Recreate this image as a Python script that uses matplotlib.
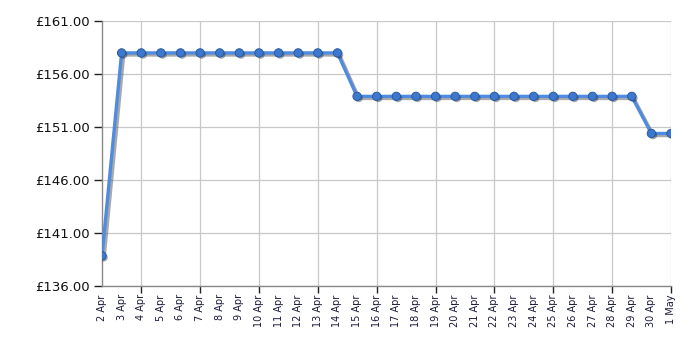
import numpy as np
from matplotlib import pyplot as plt
import matplotlib.patheffects as pe

DATES = [f"{d} Apr" for d in range(2, 31)] + ["1 May"]
PRICES = [138.85] + [157.99] * 12 + [153.89] * 15 + [150.39] * 2
Y_TICKS = [136, 141, 146, 151, 156, 161]

LINE_COLOR = "#4f8be0"
MARKER_COLOR = "#3d78cf"


def main():
    fig = plt.figure(figsize=(7, 3.5), dpi=100)
    ax = fig.add_axes([102 / 700, 64 / 350, 569 / 700, 265 / 350])

    x = np.arange(len(DATES))
    shadow = [pe.SimpleLineShadow(offset=(1.5, -1.5), shadow_color="#555555", alpha=0.5), pe.Normal()]
    ax.plot(x, PRICES, color=LINE_COLOR, lw=2.4, solid_joinstyle="round",
            path_effects=shadow, zorder=3)
    ax.plot(x, PRICES, ls="none", marker="o", ms=6, mfc=MARKER_COLOR,
            mec="#2a5a9e", mew=0.7, zorder=4,
            path_effects=[pe.SimplePatchShadow(offset=(1.2, -1.2), alpha=0.4), pe.Normal()])

    ax.set_xlim(0, len(DATES) - 1)
    ax.set_ylim(Y_TICKS[0], Y_TICKS[-1])

    ax.set_yticks(Y_TICKS)
    ax.set_yticklabels([f"£{v:.2f}" for v in Y_TICKS], fontsize=9.5, color="#111111")
    ax.tick_params(axis="y", length=6, width=1, color="#222222", pad=3)

    ax.xaxis.remove_overlapping_locs = False
    ax.set_xticks(x[2::3])
    ax.set_xticklabels([])
    ax.tick_params(axis="x", which="major", length=5, width=1, color="#222222")
    ax.set_xticks(x, minor=True)
    ax.set_xticklabels(DATES, minor=True, rotation=90, fontsize=7, color="#1a1a3a")
    ax.tick_params(axis="x", which="minor", length=0, pad=6)

    ax.grid(True, axis="both", which="major", color="#c8c8c8", lw=0.9)
    ax.set_axisbelow(True)

    for side in ["top", "right"]:
        ax.spines[side].set_visible(False)
    for side in ["left", "bottom"]:
        ax.spines[side].set_color("#888888")
        ax.spines[side].set_linewidth(1)

    fig.savefig("out.png", dpi=100)


if __name__ == '__main__': main()
